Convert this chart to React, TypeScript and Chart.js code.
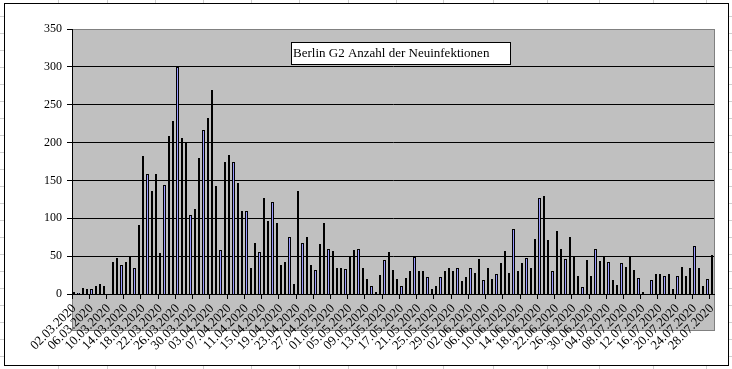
import React, { useEffect, useRef } from "react";
import { Chart, registerables, BarElement } from "chart.js";

Chart.register(...registerables);

const categories: string[] = [
  "02.03.2020", "03.03.2020", "04.03.2020", "05.03.2020", "06.03.2020", "07.03.2020", "08.03.2020", "09.03.2020", "10.03.2020", "11.03.2020",
  "12.03.2020", "13.03.2020", "14.03.2020", "15.03.2020", "16.03.2020", "17.03.2020", "18.03.2020", "19.03.2020", "20.03.2020", "21.03.2020",
  "22.03.2020", "23.03.2020", "24.03.2020", "25.03.2020", "26.03.2020", "27.03.2020", "28.03.2020", "29.03.2020", "30.03.2020", "31.03.2020",
  "01.04.2020", "02.04.2020", "03.04.2020", "04.04.2020", "05.04.2020", "06.04.2020", "07.04.2020", "08.04.2020", "09.04.2020", "10.04.2020",
  "11.04.2020", "12.04.2020", "13.04.2020", "14.04.2020", "15.04.2020", "16.04.2020", "17.04.2020", "18.04.2020", "19.04.2020", "20.04.2020",
  "21.04.2020", "22.04.2020", "23.04.2020", "24.04.2020", "25.04.2020", "26.04.2020", "27.04.2020", "28.04.2020", "29.04.2020", "30.04.2020",
  "01.05.2020", "02.05.2020", "03.05.2020", "04.05.2020", "05.05.2020", "06.05.2020", "07.05.2020", "08.05.2020", "09.05.2020", "10.05.2020",
  "11.05.2020", "12.05.2020", "13.05.2020", "14.05.2020", "15.05.2020", "16.05.2020", "17.05.2020", "18.05.2020", "19.05.2020", "20.05.2020",
  "21.05.2020", "22.05.2020", "23.05.2020", "24.05.2020", "25.05.2020", "26.05.2020", "27.05.2020", "28.05.2020", "29.05.2020", "30.05.2020",
  "31.05.2020", "01.06.2020", "02.06.2020", "03.06.2020", "04.06.2020", "05.06.2020", "06.06.2020", "07.06.2020", "08.06.2020", "09.06.2020",
  "10.06.2020", "11.06.2020", "12.06.2020", "13.06.2020", "14.06.2020", "15.06.2020", "16.06.2020", "17.06.2020", "18.06.2020", "19.06.2020",
  "20.06.2020", "21.06.2020", "22.06.2020", "23.06.2020", "24.06.2020", "25.06.2020", "26.06.2020", "27.06.2020", "28.06.2020", "29.06.2020",
  "30.06.2020", "01.07.2020", "02.07.2020", "03.07.2020", "04.07.2020", "05.07.2020", "06.07.2020", "07.07.2020", "08.07.2020", "09.07.2020",
  "10.07.2020", "11.07.2020", "12.07.2020", "13.07.2020", "14.07.2020", "15.07.2020", "16.07.2020", "17.07.2020", "18.07.2020", "19.07.2020",
  "20.07.2020", "21.07.2020", "22.07.2020", "23.07.2020", "24.07.2020", "25.07.2020", "26.07.2020", "27.07.2020", "28.07.2020",
];

const tickLabels: string[] = [
  "02.03.2020", "06.03.2020", "10.03.2020", "14.03.2020", "18.03.2020", "22.03.2020", "26.03.2020", "30.03.2020",
  "03.04.2020", "07.04.2020", "11.04.2020", "15.04.2020", "19.04.2020", "23.04.2020", "27.04.2020",
  "01.05.2020", "05.05.2020", "09.05.2020", "13.05.2020", "17.05.2020", "21.05.2020", "25.05.2020", "29.05.2020",
  "02.06.2020", "06.06.2020", "10.06.2020", "14.06.2020", "18.06.2020", "22.06.2020", "26.06.2020", "30.06.2020",
  "04.07.2020", "08.07.2020", "12.07.2020", "16.07.2020", "20.07.2020", "24.07.2020", "28.07.2020",
];

const newInfections: number[] = [
  2, 1, 8, 7, 6, 10, 13, 10, 0, 42, 47, 38, 42, 50, 35, 91, 182, 158, 136, 158,
  54, 144, 209, 228, 300, 206, 200, 104, 112, 180, 216, 232, 269, 143, 58, 175, 183,
  174, 147, 109, 109, 34, 67, 55, 127, 97, 121, 94, 38, 42, 75, 13, 136, 67, 75, 38,
  32, 66, 94, 60, 57, 34, 34, 33, 49, 58, 60, 34, 20, 11, 3, 25, 45, 55,
  32, 20, 11, 21, 30, 49, 30, 30, 23, 7, 10, 22, 30, 35, 30, 34, 17, 23, 35, 28,
  46, 18, 34, 20, 26, 41, 57, 28, 86, 30, 41, 47, 34, 72, 127, 130, 71,
  30, 83, 59, 46, 75, 50, 24, 9, 45, 24, 59, 43, 50, 42, 18, 12, 41, 36, 50, 32,
  21, 2, 0, 18, 26, 26, 24, 26, 7, 24, 36, 24, 34, 63, 34, 10, 20, 51,
];

const chartTitle = "Berlin G2 Anzahl der Neuinfektionen";
const yMin = 0;
const yMax = 350;
const yStep = 50;

const SERIF = '"Liberation Serif", "Times New Roman", serif';

// Draw bars snapped to whole pixels, like the original raster chart.
const proto: any = BarElement.prototype as any;
if (!proto.__snapped) {
  const origDraw = proto.draw;
  proto.draw = function (ctx: CanvasRenderingContext2D) {
    const x = this.x, w = this.width, y = this.y, b = this.base;
    const l = Math.round(x - w / 2);
    const r = Math.round(x + w / 2);
    this.x = (l + r) / 2;
    this.width = r - l;
    this.y = Math.round(y);
    this.base = Math.round(b);
    origDraw.call(this, ctx);
    this.x = x;
    this.width = w;
    this.y = y;
    this.base = b;
  };
  proto.__snapped = true;
}

const tickSet = new Set(tickLabels);

const excelPlugin = {
  id: "excelFrame",
  beforeDraw(chart: any) {
    const { ctx, chartArea: a, width, height } = chart;
    ctx.save();
    ctx.fillStyle = "#ffffff";
    ctx.fillRect(0, 0, width, height);
    // spreadsheet cells behind the chart object
    ctx.strokeStyle = "#cfcfcf";
    ctx.lineWidth = 1;
    for (let y = 16; y < height; y += 17) {
      ctx.beginPath();
      ctx.moveTo(0, y + 0.5);
      ctx.lineTo(width, y + 0.5);
      ctx.stroke();
    }
    const cols = [58, 107, 155, 203, 251, 299, 348, 396, 443, 493, 547, 599, 653, 706];
    for (const cx of cols) {
      ctx.beginPath();
      ctx.moveTo(cx + 0.5, 0);
      ctx.lineTo(cx + 0.5, height);
      ctx.stroke();
    }
    // chart object frame
    ctx.fillStyle = "#ffffff";
    ctx.fillRect(4, 3, 725, 363);
    ctx.strokeStyle = "#000000";
    ctx.strokeRect(4.5, 3.5, 724, 362);
    // plot area
    const left = Math.round(a.left);
    const top = Math.round(a.top);
    const right = Math.round(a.right) + 1;
    const bottom = Math.round(a.bottom) + 37;
    ctx.fillStyle = "#c0c0c0";
    ctx.fillRect(left, top, right - left, bottom - top);
    ctx.strokeStyle = "#808080";
    ctx.strokeRect(left + 0.5, top + 0.5, right - left - 1, bottom - top - 1);
    ctx.restore();
  },
  afterDraw(chart: any) {
    const { ctx, chartArea: a } = chart;
    ctx.save();
    const bx = Math.round(a.left) + 219;
    const by = Math.round(a.top) + 13;
    ctx.fillStyle = "#ffffff";
    ctx.fillRect(bx, by, 219, 22);
    ctx.strokeStyle = "#000000";
    ctx.lineWidth = 1;
    ctx.strokeRect(bx + 0.5, by + 0.5, 219, 22);
    ctx.fillStyle = "#000000";
    ctx.font = `13px ${SERIF}`;
    ctx.textBaseline = "alphabetic";
    ctx.fillText(chartTitle, bx + 2, by + 15);
    ctx.restore();
  },
};

export default function App() {
  const ref = useRef<HTMLCanvasElement>(null);
  useEffect(() => {
    if (!ref.current) return;
    const chart = new Chart(ref.current, {
      type: "bar",
      data: {
        labels: categories,
        datasets: [
          {
            data: newInfections,
            backgroundColor: "#9999ff",
            borderColor: "#000000",
            borderWidth: 1,
            inflateAmount: 0,
            categoryPercentage: 1,
            barPercentage: 0.535588,
          } as any,
        ],
      },
      options: {
        responsive: false,
        animation: false,
        devicePixelRatio: 1,
        events: [],
        layout: { padding: { left: 0.0005, right: 17.9995, top: 29, bottom: 0 } },
        plugins: {
          legend: { display: false },
          tooltip: { enabled: false },
          title: { display: false },
        },
        scales: {
          x: {
            type: "category",
            offset: true,
            grid: {
              offset: true,
              drawOnChartArea: false,
              drawTicks: true,
              tickLength: 5,
              color: (c: any) =>
                c.index !== undefined && tickSet.has(categories[c.index]) ? "#000000" : "rgba(0,0,0,0)",
            },
            border: { display: true, color: "#000000", width: 1 },
            ticks: {
              autoSkip: false,
              minRotation: 45,
              maxRotation: 45,
              padding: 2,
              color: "#000000",
              font: { family: SERIF, size: 13 },
              callback: (_v: any, i: number) => (tickSet.has(categories[i]) ? categories[i] : ""),
            },
            afterFit: (s: any) => {
              s.height = 75;
            },
          },
          y: {
            min: yMin,
            max: yMax,
            ticks: {
              stepSize: yStep,
              padding: 5,
              color: "#000000",
              font: { family: SERIF, size: 12 },
            },
            grid: {
              color: (c: any) => (c.tick && c.tick.value === yMax ? "#808080" : "#000000"),
              tickColor: "#000000",
              tickLength: 5,
              drawTicks: true,
            },
            border: { display: true, color: "#000000", width: 1 },
            afterFit: (s: any) => {
              s.width = 72;
            },
          },
        },
      } as any,
      plugins: [excelPlugin],
    });
    return () => chart.destroy();
  }, []);

  return (
    <div style={{ position: "fixed", left: 0, top: 0, width: 732, height: 369, background: "#fff" }}>
      <canvas ref={ref} width={732} height={369} style={{ display: "block", width: 732, height: 369 }} />
    </div>
  );
}
